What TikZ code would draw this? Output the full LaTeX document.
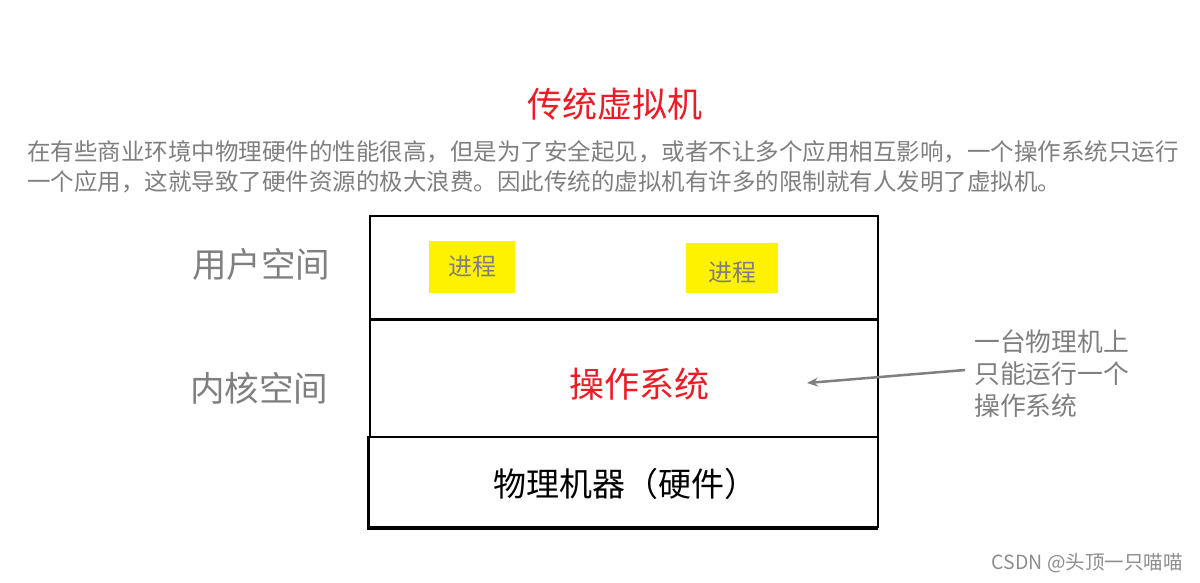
\documentclass[tikz,border=0pt]{standalone}
\usepackage{fontspec}
\setmainfont{Noto Sans CJK SC}
\usetikzlibrary{arrows.meta}
\definecolor{txtgray}{RGB}{127,127,127}
\definecolor{hlyellow}{RGB}{255,242,0}
\definecolor{ared}{RGB}{237,28,36}
\begin{document}
\begin{tikzpicture}[x=1pt,y=-1pt,
  lbl/.style={inner sep=0pt, text=txtgray, font=\fontsize{34.5}{36}\selectfont},
  proc/.style={fill=hlyellow, inner sep=0pt, text=txtgray, font=\fontsize{24}{26}\selectfont},
  proctext/.style={inner sep=0pt, text=txtgray, font=\fontsize{24}{26}\selectfont},
  para/.style={anchor=west, inner sep=0pt, text=txtgray, font=\fontsize{23.5}{28}\selectfont},
  layer/.style={draw=black, line width=2pt}]
\useasboundingbox (0,0) rectangle (1200,583);
% title & description
\node[inner sep=0pt, text=ared, font=\fontsize{35}{38}\selectfont] (title) at (615,104) {传统虚拟机};
\node[para] (p1) at (27,152) {在有些商业环境中物理硬件的性能很高，但是为了安全起见，或者不让多个应用相互影响，一个操作系统只运行};
\node[para] (p2) at (27,182) {一个应用，这就导致了硬件资源的极大浪费。因此传统的虚拟机有许多的限制就有人发明了虚拟机。};
% layers
\draw[layer] (370,216) rectangle (878,319);
\draw[layer] (370,319) rectangle (878,437);
\draw[layer] (369,437) rectangle (878,527);
\draw[line width=3pt] (370,319) -- (878,319);
\draw[line width=3pt] (368,436) -- (368,528) -- (878,528);
% processes
\node[proc, minimum width=86pt, minimum height=52pt] (pr1) at (472,267) {进程};
\node[proc, minimum width=92pt, minimum height=50pt] (pr2) at (732,268) {};
\node[proctext] (pr2t) at (732,273) {进程};
% side labels
\node[lbl] (user) at (261,264) {用户空间};
\node[lbl] (kern) at (259,388) {内核空间};
% layer texts
\node[inner sep=0pt, text=ared, font=\fontsize{35}{38}\selectfont] (os) at (639,384) {操作系统};
\node[inner sep=0pt, text=black, font=\fontsize{33}{36}\selectfont] (hw) at (625,484) {物理机器（硬件）};
% note
\node[anchor=north west, inner sep=0pt, text=txtgray, align=left, font=\fontsize{25.8}{32}\selectfont] (note) at (974,330) {一台物理机上\\只能运行一个\\操作系统};
\coordinate (nstart) at (965,370);
\coordinate (nend) at (807,383);
\draw[txtgray, line width=2.5pt, -{Stealth[length=11pt,width=9pt]}] (nstart) -- (nend);
% watermark
\node[anchor=east, inner sep=0pt, text=black!45, font=\fontsize{19.5}{22}\selectfont] (wm) at (1183,563) {CSDN @头顶一只喵喵};
\end{tikzpicture}
\end{document}
